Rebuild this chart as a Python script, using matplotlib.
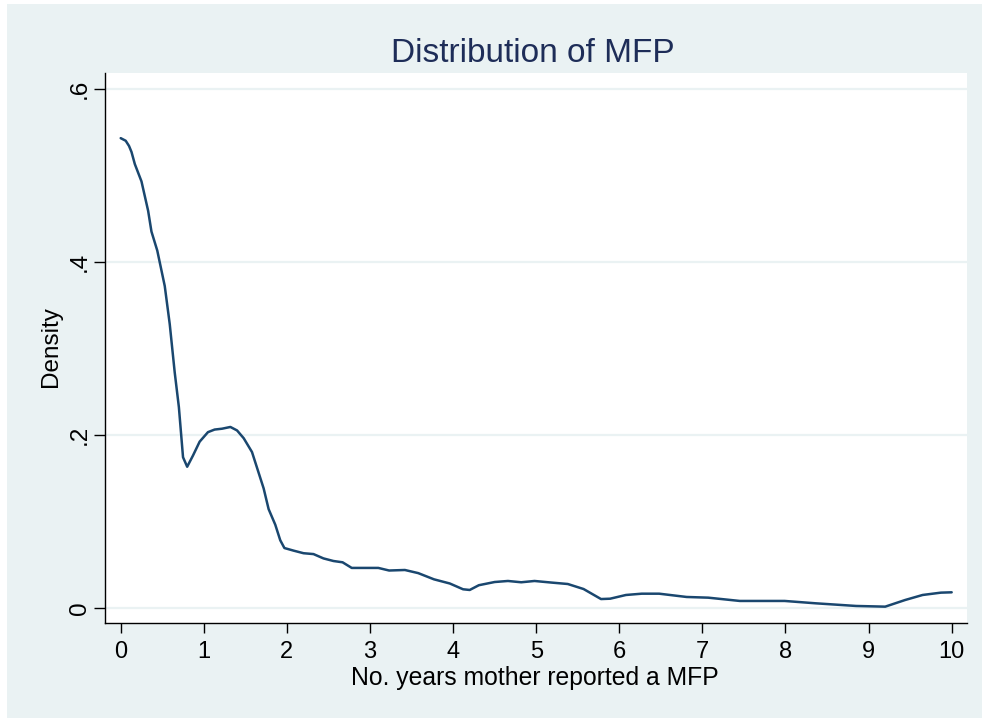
import matplotlib
matplotlib.use("Agg")
import matplotlib.pyplot as plt
from matplotlib.patches import Rectangle

years = [0, 0.06, 0.10, 0.13, 0.17, 0.25, 0.33, 0.37, 0.44, 0.53, 0.59, 0.65,
         0.70, 0.75, 0.80, 0.87, 0.95, 1.05, 1.13, 1.22, 1.32, 1.40,
         1.48, 1.58, 1.66, 1.72, 1.78, 1.86, 1.92, 1.97, 2.08, 2.20,
         2.32, 2.44, 2.56, 2.67, 2.78, 3.10, 3.23, 3.42, 3.58, 3.77,
         3.96, 4.12, 4.20, 4.31, 4.50, 4.66, 4.82, 4.98, 5.19, 5.38,
         5.57, 5.78, 5.89, 6.08, 6.27, 6.48, 6.81, 7.07, 7.45, 7.99,
         8.36, 8.85, 9.20, 9.44, 9.65, 9.87, 10.0]
density = [0.543, 0.540, 0.534, 0.527, 0.513, 0.493, 0.459, 0.435, 0.413, 0.372, 0.328, 0.272,
           0.232, 0.174, 0.163, 0.176, 0.192, 0.203, 0.206, 0.207, 0.209, 0.205,
           0.196, 0.180, 0.156, 0.138, 0.114, 0.096, 0.078, 0.069, 0.066, 0.063,
           0.062, 0.057, 0.054, 0.0525, 0.046, 0.046, 0.043, 0.0436, 0.040, 0.0328,
           0.028, 0.0213, 0.0205, 0.026, 0.0297, 0.0309, 0.0294, 0.0309, 0.029, 0.0274,
           0.0216, 0.010, 0.0104, 0.0147, 0.0162, 0.0162, 0.0124, 0.0116, 0.0078, 0.0078,
           0.0051, 0.002, 0.0012, 0.0089, 0.0147, 0.0174, 0.0178]

x_ticks = list(range(0, 11))
y_ticks = [0, 0.2, 0.4, 0.6]
y_tick_labels = ["0", ".2", ".4", ".6"]

plt.rcParams['font.family'] = ['Liberation Sans', 'DejaVu Sans']

W, H = 982, 719
BG = "#EAF2F3"
fig = plt.figure(figsize=(W / 100, H / 100), dpi=100)
fig.patch.set_facecolor("white")
fig.patches.append(Rectangle((7 / W, 1 / H), 975 / W, 714 / H,
                             transform=fig.transFigure, facecolor=BG,
                             edgecolor="none", zorder=-10))

left, right, top, bottom = 105, 967.3, 73.3, 623
aw, ah = right - left, bottom - top
ax = fig.add_axes([left / W, 1 - bottom / H, aw / W, ah / H])
ax.set_zorder(1)
ax.set_facecolor("white")

ax.plot(years, density, color="#1a476f", lw=1.8, solid_joinstyle="round",
        solid_capstyle="round", zorder=3)

ax.set_xlim(-0.189, 10.188)
ax.set_ylim(-0.0177, 0.618)
ax.set_xticks(x_ticks)
ax.set_yticks(y_ticks)
ax.set_yticklabels(y_tick_labels, rotation=90, va="center")
ax.yaxis.grid(True, color=BG, lw=1.6, zorder=1)
ax.set_axisbelow(True)

for s in ["top", "right"]:
    ax.spines[s].set_visible(False)
for s in ["left", "bottom"]:
    ax.spines[s].set_color("black")
    ax.spines[s].set_linewidth(1.0)

ax.tick_params(axis="x", direction="out", length=7.5, width=1.0,
               color="black", labelsize=17, labelcolor="black", pad=5.2)
ax.tick_params(axis="y", direction="out", length=8, width=1.0,
               color="black", labelsize=17.5, labelcolor="black", pad=2)

xl = ax.set_xlabel("No. years mother reported a MFP", fontsize=17.8)
xl.set_va("baseline")
ax.xaxis.set_label_coords((535.3 - left) / aw, (bottom - 685) / ah)

yl = ax.set_ylabel("Density", fontsize=17.5)
yl.set_va("baseline")
ax.yaxis.set_label_coords((56.7 - left) / aw, (bottom - 346.7) / ah)

fig.text(532.5 / W, 1 - 61.7 / H, "Distribution of MFP", fontsize=24,
         color="#1E2D58", ha="center", va="baseline", zorder=2)

fig.savefig("out.png", dpi=100)
